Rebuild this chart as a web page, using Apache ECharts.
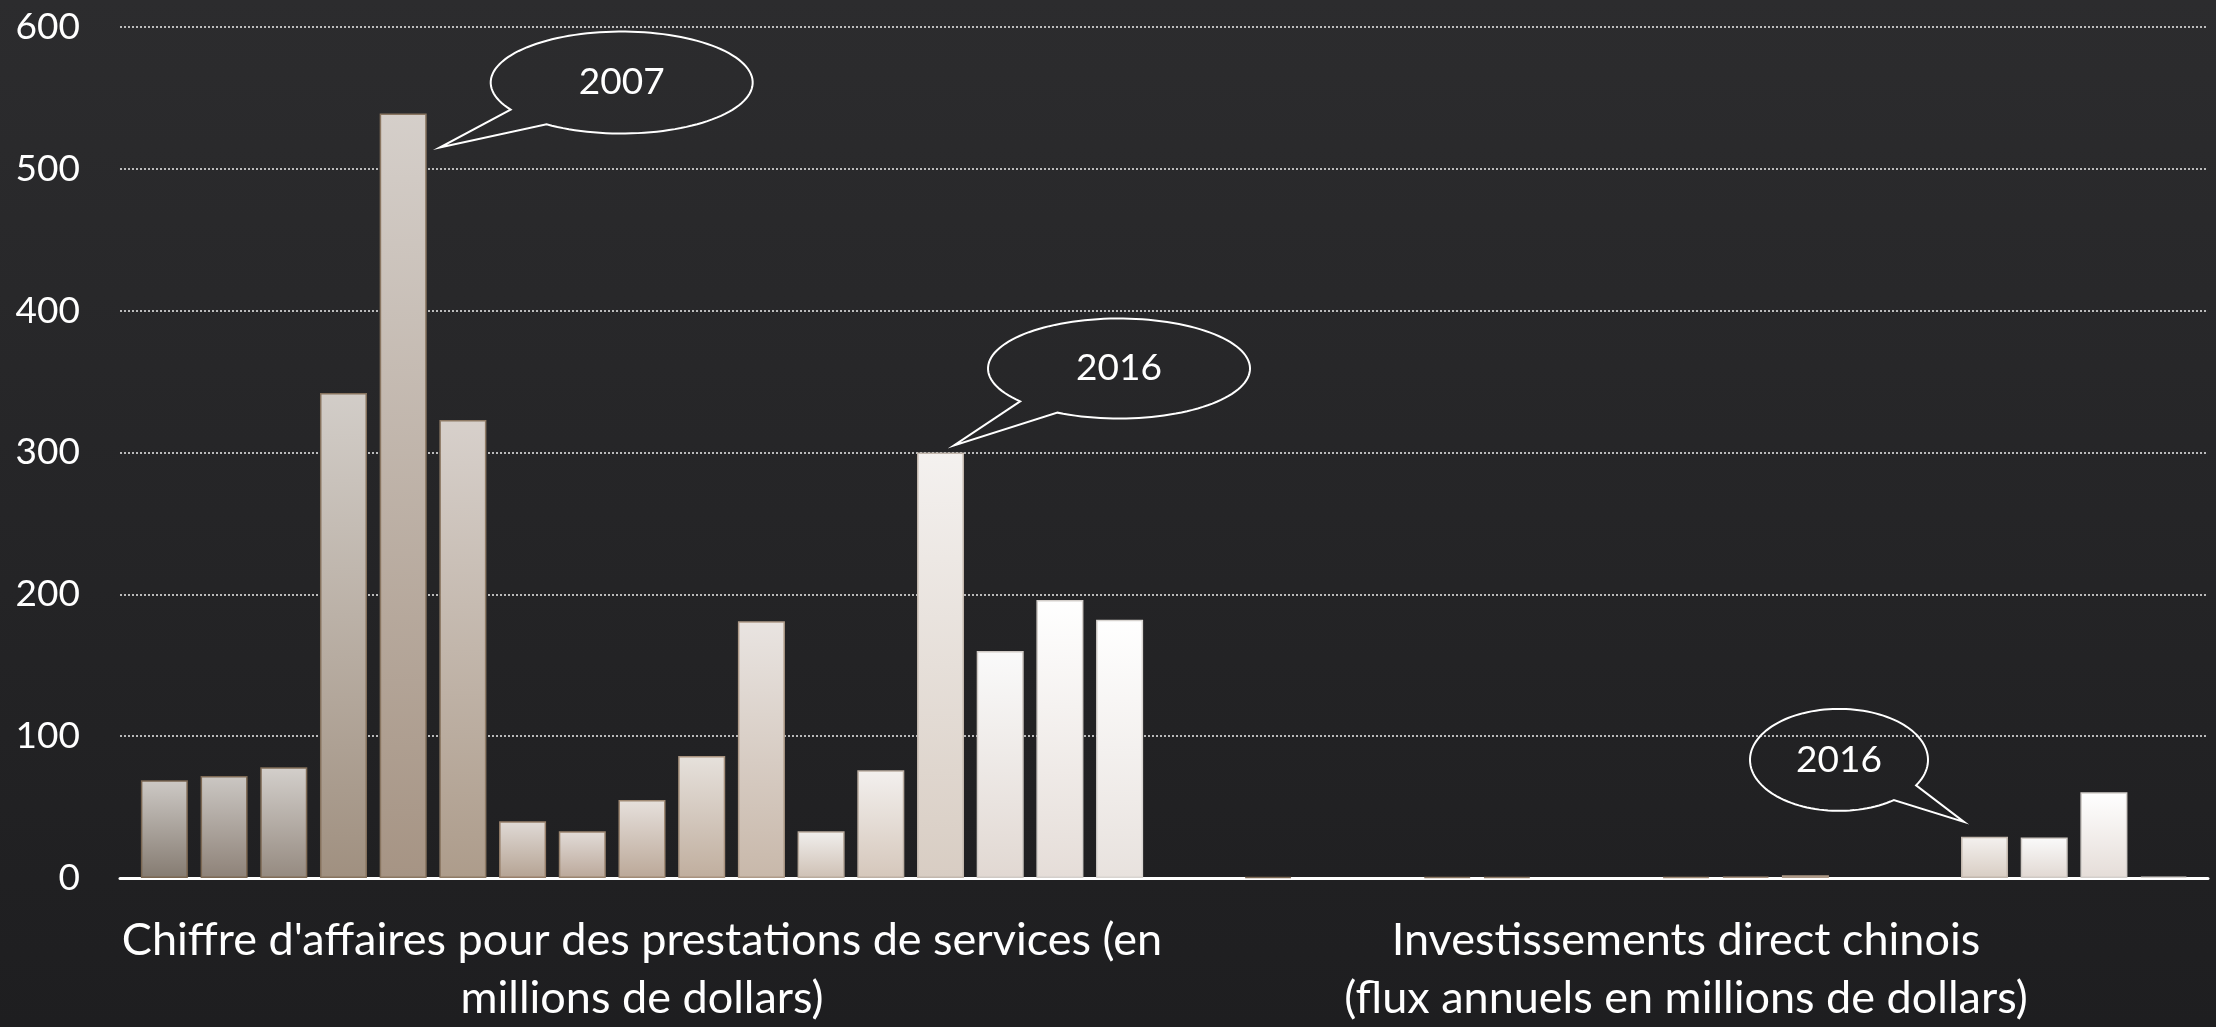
<!DOCTYPE html>
<html>
<head>
<meta charset="utf-8">
<script src="https://cdn.jsdelivr.net/npm/echarts@6/dist/echarts.min.js"></script>
<style>
  html, body { margin: 0; padding: 0; background: #252527; }
  #echart { width: 2216px; height: 1027px; }
</style>
</head>
<body>
<div id="echart"></div>
<script>
// categories (two groups) and years (one series per year)
var categories = [
  "Chiffre d'affaires pour des prestations de services (en\nmillions de dollars)",
  "Investissements direct chinois\n(flux annuels en millions de dollars)"
];
var years = ["2003", "2004", "2005", "2006", "2007", "2008", "2009", "2010", "2011",
  "2012", "2013", "2014", "2015", "2016", "2017", "2018", "2019"];

// values
var servicesValues = [69, 72, 78, 342, 539, 323, 40, 33, 55, 86, 181, 33, 76, 300, 160, 196, 182];
var investValues = [null, 0.8, null, null, 0.8, 0.8, null, null, 0.8, 1, 2, null, null, 29, 28.5, 60.5, 1];

var yTicks = [0, 100, 200, 300, 400, 500, 600];

// callouts: which bar they point at
var callouts = [
  { text: "2007", year: "2007", category: 0 },
  { text: "2016", year: "2016", category: 0 },
  { text: "2016", year: "2016", category: 1 }
];

// bar colours, one per year
var barTop = ["#cdc9c5", "#cbc7c3", "#d3cfcb", "#d2cdc8", "#d5cfca", "#d7d0cb", "#e0dad6", "#e2dcd8",
  "#e6e0dc", "#e6e1dc", "#e9e4e1", "#f1efed", "#f3f0ee", "#f4f1ef", "#fafafa", "#ffffff", "#ffffff"];
var barBottom = ["#857b71", "#8e8278", "#958a80", "#a09080", "#a69484", "#ad9c8b", "#b5a393", "#bba89a",
  "#bba898", "#c0ae9e", "#c8b8aa", "#cec0b4", "#d5c7bb", "#d8cdc3", "#e1d8d2", "#e5ddd8", "#e8e2de"];
var barBorder = ["#7a6651", "#7d6954", "#806c57", "#86725d", "#8a7661", "#8e7a65", "#977f6a", "#9a846f",
  "#a08a75", "#a8927e", "#ae9a88", "#b9ab9d", "#bdb0a4", "#c2b7ad", "#cfc9c4", "#d4cfcb", "#d8d4d0"];

var font = "Lato";

var myChart = echarts.init(document.getElementById("echart"));

var series = years.map(function (y, i) {
  return {
    name: y,
    type: "bar",
    barGap: "27%",
    barCategoryGap: "4%",
    data: [servicesValues[i], investValues[i]],
    itemStyle: {
      color: new echarts.graphic.LinearGradient(0, 0, 0, 1, [
        { offset: 0, color: barTop[i] },
        { offset: 1, color: barBottom[i] }
      ]),
      borderColor: barBorder[i],
      borderWidth: 1.5
    }
  };
});

var option = {
  animation: false,
  // dark slate, a little lighter at the top
  backgroundColor: new echarts.graphic.LinearGradient(0, 0, 0, 1, [
    { offset: 0, color: "#2c2c2e" },
    { offset: 1, color: "#1e1e20" }
  ]),
  grid: { left: 120, right: 8, top: 27, bottom: 145 },
  xAxis: {
    type: "category",
    data: categories,
    axisLine: { lineStyle: { color: "#ffffff", width: 3 } },
    axisTick: { show: false },
    axisLabel: {
      interval: 0,
      color: "#ffffff",
      fontFamily: font,
      fontSize: 45,
      lineHeight: 58,
      margin: 33
    }
  },
  yAxis: {
    type: "value",
    min: yTicks[0],
    max: yTicks[yTicks.length - 1],
    interval: yTicks[1] - yTicks[0],
    axisLine: { show: false },
    axisTick: { show: false },
    axisLabel: { color: "#ffffff", fontFamily: font, fontSize: 37, margin: 40 },
    splitLine: { lineStyle: { color: "#ececec", width: 1.5, type: [2, 2] } }
  },
  series: series
};
myChart.setOption(option);

// speech bubble shapes, placed from the bar layout
var bubbleStyle = [
  // corner of the bar the tail points at, tip offset, centre offset from tip, radii, tail base angles
  { corner: "right", tip: [13, 34], center: [182, -65], rx: 131, ry: 51, a1: 125, a2: 148 },
  { corner: "right", tip: [-10, -7], center: [165, -77], rx: 131, ry: 50, a1: 118, a2: 139 },
  { corner: "left", tip: [3, -15], center: [-125, -62], rx: 89, ry: 51, a1: 30, a2: 52 }
];

// ellipse outline from a2 round to a1 (the long way), then the tail tip
function bubblePoints(cx, cy, rx, ry, a1, a2, tx, ty) {
  var pts = [];
  var steps = 120;
  var start = a2, end = a1 + 360;
  for (var i = 0; i <= steps; i++) {
    var a = (start + (end - start) * i / steps) * Math.PI / 180;
    pts.push([cx + rx * Math.cos(a), cy + ry * Math.sin(a)]);
  }
  pts.push([tx, ty]);
  return pts;
}

function drawCallouts() {
  var graphic = [];
  callouts.forEach(function (c, k) {
    var s = bubbleStyle[k];
    var idx = years.indexOf(c.year);
    var layout = myChart.getModel().getSeriesByIndex(idx).getData().getItemLayout(c.category);
    var top = Math.min(layout.y, layout.y + layout.height);
    var left = Math.min(layout.x, layout.x + layout.width);
    var right = left + Math.abs(layout.width);
    var tx = (s.corner === "right" ? right : left) + s.tip[0];
    var ty = top + s.tip[1];
    var cx = tx + s.center[0], cy = ty + s.center[1];
    graphic.push({
      type: "polygon",
      z: 10,
      shape: { points: bubblePoints(cx, cy, s.rx, s.ry, s.a1, s.a2, tx, ty) },
      style: { fill: "none", stroke: "#ffffff", lineWidth: 2 }
    });
    graphic.push({
      type: "text",
      z: 11,
      x: cx,
      y: cy,
      style: {
        text: c.text,
        fill: "#ffffff",
        fontFamily: font,
        fontSize: 37,
        align: "center",
        verticalAlign: "middle"
      }
    });
  });
  myChart.setOption({ graphic: graphic });
}
drawCallouts();
</script>
</body>
</html>
